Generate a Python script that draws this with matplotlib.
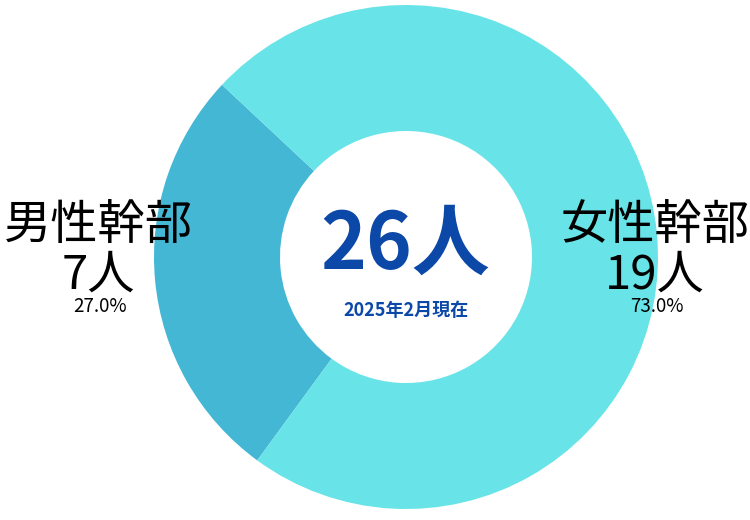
import matplotlib
matplotlib.use("Agg")
import matplotlib.pyplot as plt

plt.rcParams['font.family'] = ['Noto Sans CJK JP', 'DejaVu Sans']

groups = ['男性幹部', '女性幹部']
counts = [7, 19]
shares = ['27.0%', '73.0%']
colors = ['#44b7d5', '#68e4e8']
total_label = '26人'
date_label = '2025年2月現在'

W, H = 750, 520
fig = plt.figure(figsize=(W / 100, H / 100), dpi=100)
ax = fig.add_axes([0, 0, 1, 1])

cx, cy = 406, H - 257
ax.pie(counts, colors=colors, startangle=136.9, counterclock=True,
       center=(cx, cy), radius=252,
       wedgeprops=dict(width=126, edgecolor='none', linewidth=0))

ax.set_xlim(0, W)
ax.set_ylim(0, H)
ax.set_aspect('equal')
ax.axis('off')

# side labels
label_x = [98, 655]
for x, g, n, s in zip(label_x, groups, counts, shares):
    ax.text(x, H - 227, g, ha='center', va='center', fontsize=34, color='black')
    ax.text(x, H - 275, f'{n}人', ha='center', va='center', fontsize=34, color='black')
    ax.text(x + 2, H - 306, s, ha='center', va='center', fontsize=13.5, color='black')

# center text
ax.text(cx - 1, H - 246, total_label, ha='center', va='center', fontsize=56,
        fontweight='bold', color='#0b48a8')
ax.text(cx, H - 311, date_label, ha='center', va='center', fontsize=13,
        fontweight='bold', color='#0b48a8')

fig.savefig('out.png', dpi=100)
